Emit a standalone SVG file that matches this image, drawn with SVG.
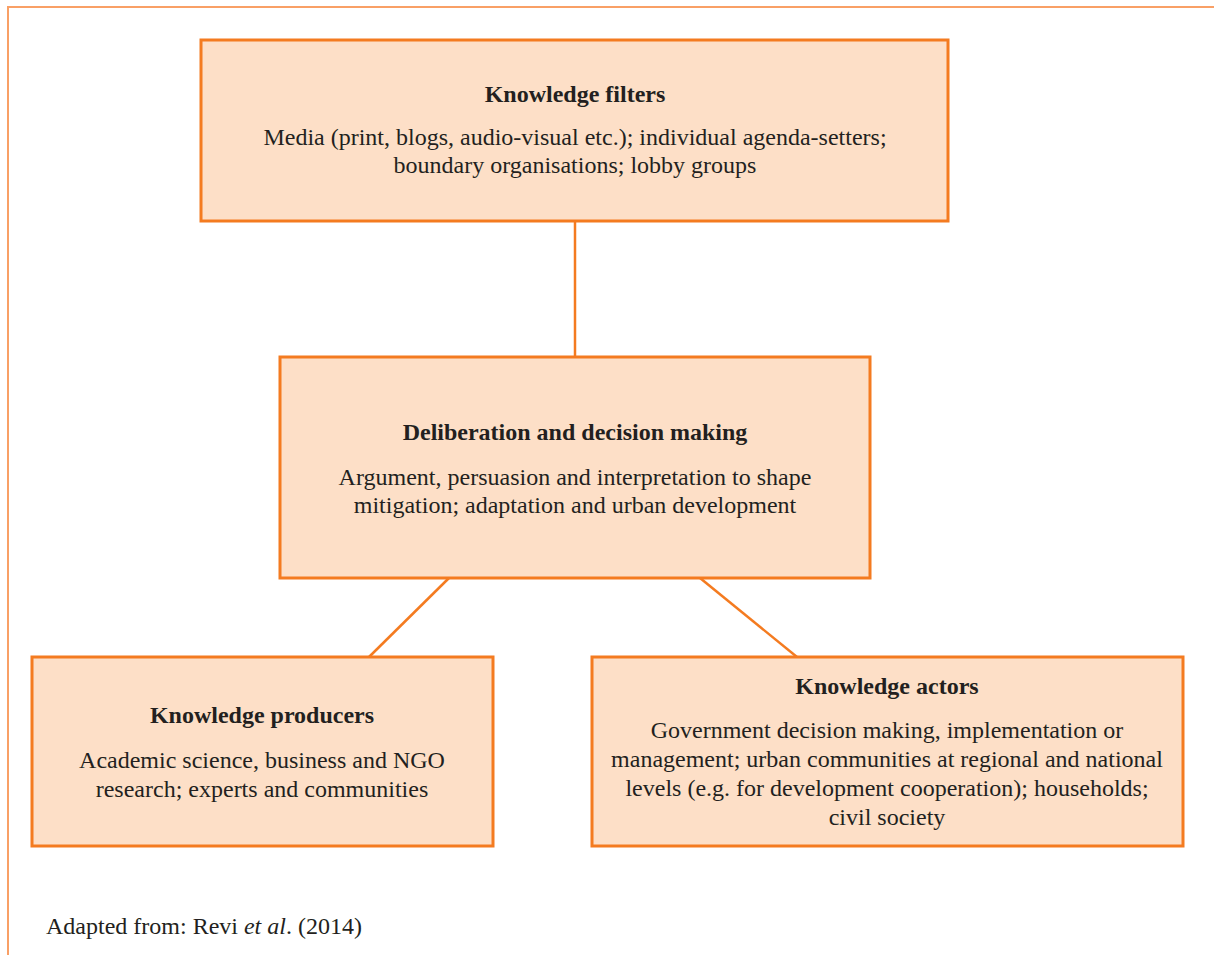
<svg xmlns="http://www.w3.org/2000/svg" width="1214" height="955" viewBox="0 0 1214 955">
<style>
.box{fill:#FDDFC7;stroke:#F47B20;stroke-width:3}
.frame{fill:none;stroke:#F9A066;stroke-width:2}
.conn{stroke:#F47B20;stroke-width:2.5;fill:none}
text{font-family:"Liberation Serif","Times New Roman",serif;font-size:24px;fill:#231F20;text-anchor:middle}
.t{font-weight:bold}
.foot{text-anchor:start}
</style>
<rect width="1214" height="955" fill="#fff"/>
<path class="frame" d="M8,955 V7 H1214"/>
<g id="connectors">
<line class="conn" x1="575" y1="221" x2="575" y2="357"/>
<line class="conn" x1="449" y1="578" x2="369" y2="657"/>
<line class="conn" x1="700" y1="578" x2="797" y2="657"/>
</g>
<g id="filters">
<rect class="box" x="201" y="40" width="747" height="181"/>
<text class="t" x="575" y="102">Knowledge filters</text>
<text x="575" y="145">Media (print, blogs, audio-visual etc.); individual agenda-setters;</text>
<text x="575" y="173">boundary organisations; lobby groups</text>
</g>
<g id="deliberation">
<rect class="box" x="280" y="357" width="590" height="221"/>
<text class="t" x="575" y="440">Deliberation and decision making</text>
<text x="575" y="485">Argument, persuasion and interpretation to shape</text>
<text x="575" y="513">mitigation; adaptation and urban development</text>
</g>
<g id="producers">
<rect class="box" x="32" y="657" width="461" height="189"/>
<text class="t" x="262" y="723">Knowledge producers</text>
<text x="262" y="768">Academic science, business and NGO</text>
<text x="262" y="797">research; experts and communities</text>
</g>
<g id="actors">
<rect class="box" x="592" y="657" width="591" height="189"/>
<text class="t" x="887" y="694">Knowledge actors</text>
<text x="887" y="738">Government decision making, implementation or</text>
<text x="887" y="767">management; urban communities at regional and national</text>
<text x="887" y="796">levels (e.g. for development cooperation); households;</text>
<text x="887" y="825">civil society</text>
</g>
<text class="foot" x="46" y="934">Adapted from: Revi <tspan font-style="italic">et al</tspan>. (2014)</text>
</svg>
